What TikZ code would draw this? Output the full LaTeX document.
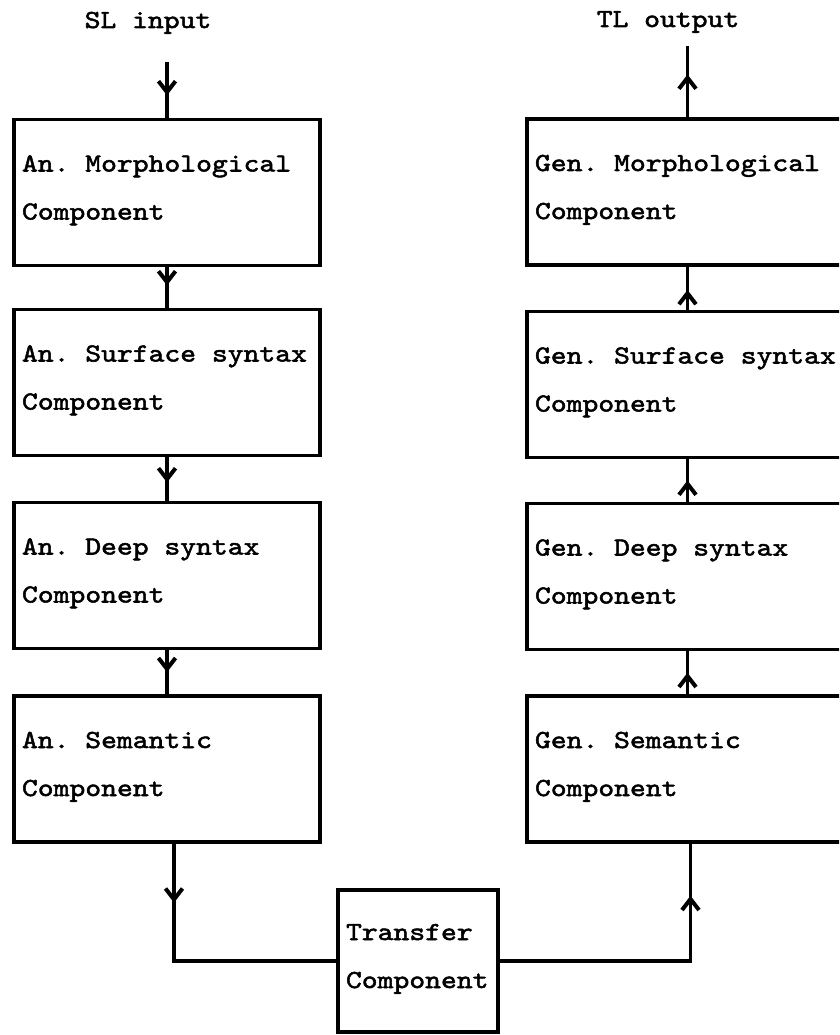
\documentclass[tikz,border=0pt]{standalone}
\usepackage{fontspec}
\newfontfamily\typefont{lmmono10-regular.otf}[FakeStretch=1.16,FakeBold=2]
\usetikzlibrary{arrows.meta,decorations.markings}

% two text lines of a component box, with fixed vertical extent
\newcommand{\comptext}[2]{\rule{0pt}{20pt}#1\\#2\rule[-14pt]{0pt}{14pt}}
% typewriter spacing: every blank is one character cell
\newcommand{\fixspaces}{\frenchspacing\spaceskip=15.8pt\relax\xspaceskip=15.8pt\relax}

\begin{document}
\begin{tikzpicture}[x=1pt,y=-1pt,
  every node/.style={font=\typefont\fontsize{26pt}{48pt}\selectfont,
    execute at begin node=\fixspaces},
  compbox/.style={draw, line width=3.5pt, rectangle, inner xsep=8pt, inner ysep=0pt,
    align=left, minimum height=#1},
  compbox/.default=146pt,
  leftbox/.style={compbox, text width=290pt},
  rightbox/.style={compbox, text width=305pt},
  flow/.style={line width=3.5pt},
  midarrow/.style={postaction={decorate}, decoration={markings,
    mark=at position #1 with {\arrow{Straight Barb[length=11pt,width=17pt,line width=4pt]}}}}
]
\clip (0,0) rectangle (839,1035);

% analysis side
\node[leftbox=145pt] (aMor)  at (167,192.5) {\comptext{An. Morphological}{Component}};
\node[leftbox=141pt] (aSur)  at (167,382.5) {\comptext{An. Surface syntax}{Component}};
\node[leftbox=145pt] (aDeep) at (167,575.5) {\comptext{An. Deep syntax}{Component}};
\node[leftbox=148pt] (aSem)  at (167,769)   {\comptext{An. Semantic}{Component}};

% generation side (runs off the right edge)
\node[rightbox=144pt] (gMor)  at (687.5,192)   {\comptext{Gen. Morphological}{Component}};
\node[rightbox=147pt] (gSur)  at (687.5,384.5) {\comptext{Gen. Surface syntax}{Component}};
\node[rightbox=147pt] (gDeep) at (687.5,576.5) {\comptext{Gen. Deep syntax}{Component}};
\node[rightbox=148pt] (gSem)  at (687.5,769)   {\comptext{Gen. Semantic}{Component}};

% transfer
\node[compbox=142pt, text width=144pt] (tr) at (418,961) {\comptext{Transfer}{Component}};

% input / output labels
\node[anchor=base, inner sep=0pt] (sl) at (148,28) {SL input};
\node[anchor=base, inner sep=0pt] (tl) at (668,27) {TL output};

\coordinate (top62) at (0,62);
\coordinate (top46) at (0,46);
\coordinate (slend) at (aMor.north |- top62);
\coordinate (tlend) at (gMor.north |- top46);
\coordinate (lj) at ([xshift=7pt]aSem.south);
\coordinate (rj) at ([xshift=3pt]gSem.south);

% analysis chain
\draw[flow, midarrow=0.6] (slend) -- (aMor.north);
\draw[flow, midarrow=0.45] (aMor.south) -- (aSur.north);
\draw[flow, midarrow=0.58] (aSur.south) -- (aDeep.north);
\draw[flow, midarrow=0.5] (aDeep.south) -- (aSem.north);

% generation chain
\draw[flow, midarrow=0.5] (gSem.north) -- (gDeep.south);
\draw[flow, midarrow=0.5] (gDeep.north) -- (gSur.south);
\draw[flow, midarrow=0.46] (gSur.north) -- (gMor.south);
\draw[flow, midarrow=0.6] (gMor.north) -- (tlend);

% through transfer
\draw[flow, midarrow=59pt] (lj) |- (tr.west);
\draw[flow, midarrow=256pt] (tr.east) -| (rj);
\end{tikzpicture}
\end{document}
